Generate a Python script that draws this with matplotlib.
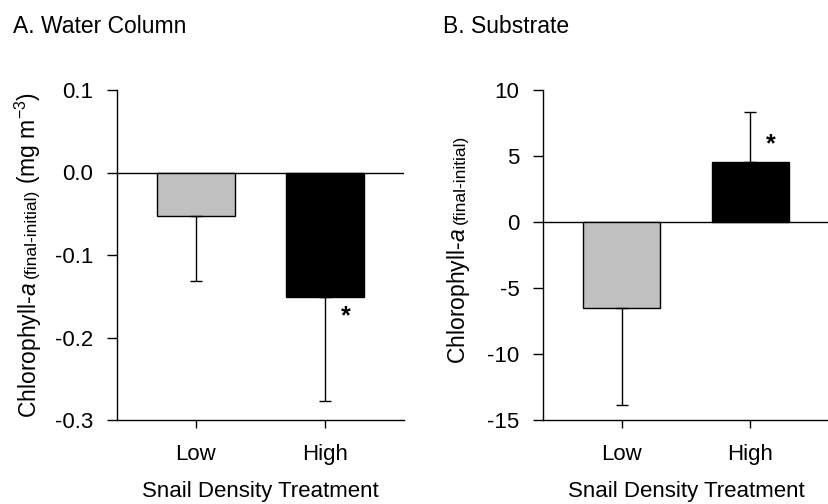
import matplotlib
matplotlib.use('Agg')
import matplotlib.pyplot as plt
from matplotlib.transforms import IdentityTransform

plt.rcParams['font.family'] = 'Liberation Sans'
plt.rcParams['mathtext.fontset'] = 'custom'
plt.rcParams['mathtext.rm'] = 'Liberation Sans'
plt.rcParams['mathtext.it'] = 'Liberation Sans:italic'
plt.rcParams['axes.unicode_minus'] = False

# data
treatments = ['Low', 'High']
water_mean = [-0.053, -0.151]
water_err = [0.079, 0.126]
substrate_mean = [-6.5, 4.55]
substrate_err = [7.4, 3.75]
bar_colors = ['#c0c0c0', '#000000']

W, H = 829, 504
DPI = 100


def draw_panel(ax, means, errs, ylim, yticks, fmt, star_y):
    x = [1, 2]
    ax.bar(x, means, width=0.6, color=bar_colors, edgecolor='black', linewidth=1.0, zorder=2)
    # one sided error bars, pointing away from zero
    lower = [e if m < 0 else 0 for m, e in zip(means, errs)]
    upper = [e if m >= 0 else 0 for m, e in zip(means, errs)]
    ax.errorbar(x, means, yerr=[lower, upper], fmt='none', ecolor='black',
                elinewidth=1.0, capsize=4, capthick=1.0, zorder=3)
    ax.axhline(0, color='black', linewidth=1.0, zorder=1)
    ax.text(2.16, star_y, '*', fontsize=18, fontweight='bold', ha='center', va='center')
    ax.set_xlim(0.39, 2.61)
    ax.set_ylim(*ylim)
    ax.set_yticks(yticks)
    ax.set_yticklabels([fmt % v for v in yticks])
    ax.set_xticks(x)
    ax.set_xticklabels(treatments)
    for s in ['top', 'right']:
        ax.spines[s].set_visible(False)
    for s in ['left', 'bottom']:
        ax.spines[s].set_linewidth(1.0)
    ax.tick_params(axis='both', direction='out', length=6, width=1.0, labelsize=16, pad=10)
    ax.tick_params(axis='x', pad=11)
    ax.tick_params(axis='y', length=7)
    ax.set_xlabel('Snail Density Treatment', fontsize=16, labelpad=12)


def stacked_ylabel(fig, x_px, yc_px, parts, gap=4):
    renderer = fig.canvas.get_renderer()
    texts = []
    lengths = []
    for s, size in parts:
        t = fig.text(0, 0, s, rotation=90, rotation_mode='anchor', ha='left',
                     va='baseline', fontsize=size, transform=IdentityTransform())
        texts.append(t)
        lengths.append(t.get_window_extent(renderer).height)
    total = sum(lengths) + gap * (len(parts) - 1)
    y = (H - yc_px) - total / 2
    for t, ln in zip(texts, lengths):
        t.set_position((x_px, y))
        y += ln + gap


fig = plt.figure(figsize=(W / DPI, H / DPI), dpi=DPI)
ax1 = fig.add_axes([117 / W, 1 - 420 / H, 287 / W, 330 / H])
ax2 = fig.add_axes([543 / W, 1 - 420 / H, 286 / W, 330 / H])

draw_panel(ax1, water_mean, water_err, (-0.3, 0.1), [0.1, 0.0, -0.1, -0.2, -0.3], '%.1f', -0.174)
draw_panel(ax2, substrate_mean, substrate_err, (-15, 10), [10, 5, 0, -5, -10, -15], '%d', 5.9)

fig.text(13, H - 33, 'A. Water Column', fontsize=16.5, ha='left', va='baseline',
         transform=IdentityTransform())
fig.text(443, H - 33, 'B. Substrate', fontsize=16.5, ha='left', va='baseline',
         transform=IdentityTransform())

stacked_ylabel(fig, 36, 255, [(r'Chlorophyll-$\mathit{a}$', 16.5),
                              ('(final-initial)', 12.5),
                              (r'(mg m$^{-3}$)', 16.5)])
stacked_ylabel(fig, 465, 249, [(r'Chlorophyll-$\mathit{a}$', 16.5),
                               ('(final-initial)', 12.5)])

fig.savefig('out.png', dpi=DPI)
